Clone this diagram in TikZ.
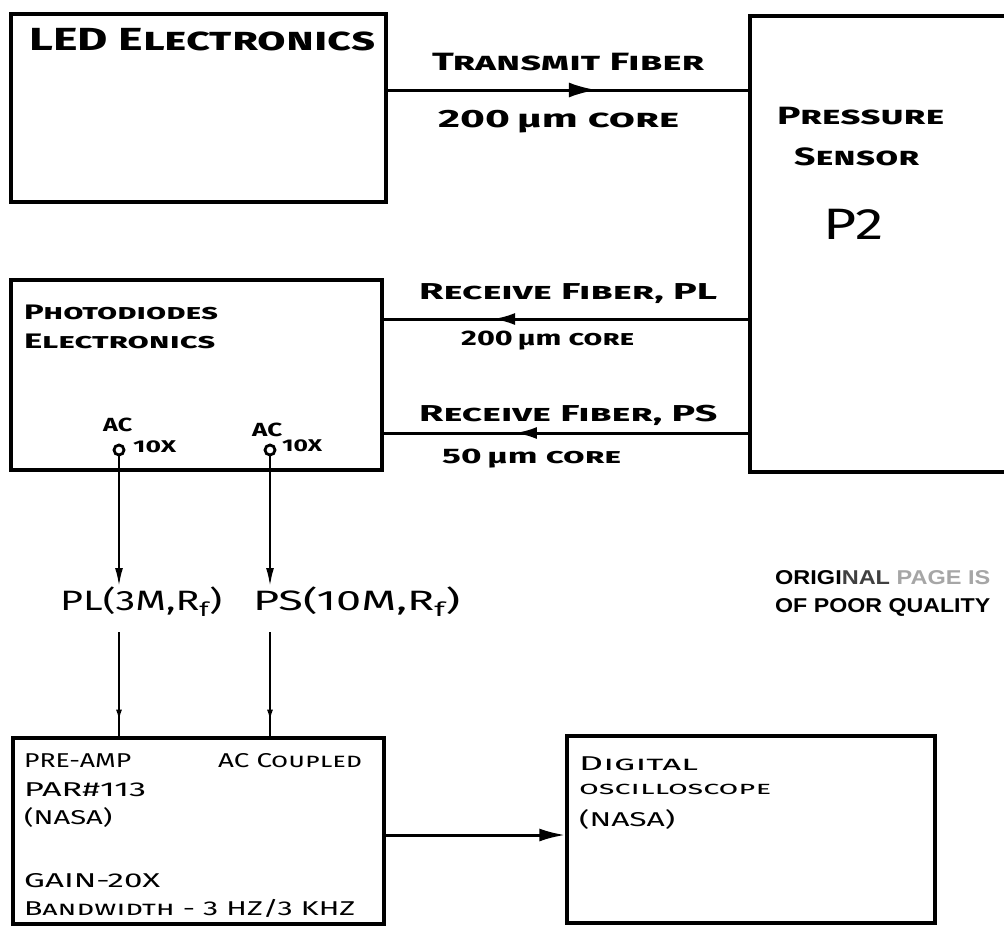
\documentclass[tikz,border=0pt]{standalone}
\usepackage{fontspec}
\setmainfont{Fira Sans}
\newfontfamily\stampfont{Liberation Sans}
\usetikzlibrary{arrows.meta,decorations.markings}
\newcommand\hw[2]{\resizebox{#1}{\height}{#2}}
\begin{document}
\begin{tikzpicture}[x=1pt,y=-1pt,
  box/.style={draw, line width=3.4pt, inner sep=0pt, rectangle},
  fiber/.style={line width=3pt},
  lead/.style={line width=2pt},
  txt/.style={inner sep=0pt, anchor=west},
  hand/.style={font=\fontsize{#1}{#1}\selectfont\bfseries\scshape},
  thin/.style={font=\fontsize{#1}{#1}\selectfont\scshape},
  midtip/.style 2 args={postaction={decorate},decoration={markings,mark=at position #1 with {\arrow{#2}}}},
]
\useasboundingbox (0,0) rectangle (1004,926);
\clip (0,0) rectangle (1004,926);
\fill[white] (0,0) rectangle (1004,926);

% boxes
\node[box, minimum width=375pt, minimum height=188pt] (led) at (198.5,108) {};
\node[box, minimum width=262pt, minimum height=456pt] (sensor) at (881,244) {};
\node[box, minimum width=371pt, minimum height=190pt] (pd) at (196.5,375) {};
\node[box, minimum width=371pt, minimum height=186pt] (pre) at (198.5,831) {};
\node[box, minimum width=368pt, minimum height=187pt] (osc) at (751,829.5) {};

% box texts
\node[txt, hand=32] (tled) at (29,40) {\hw{346pt}{LED Electronics}};
\node[txt, hand=25] (tpr) at (777,116) {\hw{167pt}{Pressure}};
\node[txt, hand=25] (tse) at (794,157) {\hw{125pt}{Sensor}};
\node[txt, font=\fontsize{44}{44}\selectfont] (tp2) at (823,224) {\hw{60pt}{P2}};
\node[txt, hand=21] (tpd1) at (24,312) {\hw{194pt}{Photodiodes}};
\node[txt, hand=21] (tpd2) at (24,341) {\hw{191pt}{Electronics}};

% fiber labels
\node[txt, hand=25] (ttx) at (432,62.5) {\hw{272pt}{Transmit Fiber}};
\node[txt, hand=25] (tc1) at (438,122) {\hw{241pt}{200\,{\upshape µm} core}};
\node[txt, hand=23] (trpl) at (419,294) {\hw{298pt}{Receive Fiber, PL}};
\node[txt, hand=21] (tc2) at (461,341) {\hw{173pt}{200\,{\upshape µm} core}};
\node[txt, hand=23] (trps) at (419,415) {\hw{298pt}{Receive Fiber, PS}};
\node[txt, hand=21] (tc3) at (442,459) {\hw{179pt}{50\,{\upshape µm} core}};

% fibers
\draw[fiber, midtip={0.58}{Latex[length=28pt,width=15pt]}] (led.east |- 0,90) -- (sensor.west |- 0,90);
\draw[fiber, midtip={0.70}{Latex[length=22pt,width=12pt]}] (sensor.west |- 0,319) -- (pd.east |- 0,319);
\draw[fiber, midtip={0.64}{Latex[length=22pt,width=12pt]}] (sensor.west |- 0,433) -- (pd.east |- 0,433);

% AC outputs
\node[txt, hand=19] (tac1) at (103,425) {\hw{29pt}{AC}};
\node[txt, hand=19] (tac2) at (252,430) {\hw{30pt}{AC}};
\node[circle, draw, line width=2.8pt, minimum size=10pt, inner sep=0pt] (ac1) at (119,450) {};
\node[circle, draw, line width=2.8pt, minimum size=10pt, inner sep=0pt] (ac2) at (270,450) {};
\node[txt, hand=17] (tx1) at (133,447) {\hw{43pt}{10X}};
\node[txt, hand=17] (tx2) at (282,446) {\hw{40pt}{10X}};

% resistor labels
\node[txt, font=\fontsize{28}{28}\selectfont] (pl) at (60,602) {\hw{162pt}{PL(3M,R\textsubscript{f})}};
\node[txt, font=\fontsize{28}{28}\selectfont] (ps) at (253,602) {\hw{207pt}{PS(10M,R\textsubscript{f})}};

\draw[lead, -{Latex[length=18pt,width=8pt]}] (ac1.south) -- (ac1 |- 0,586);
\draw[lead, -{Latex[length=18pt,width=8pt]}] (ac2.south) -- (ac2 |- 0,586);
\draw[lead, midtip={0.85}{Latex[length=11pt,width=6pt]}] (ac1 |- 0,632) -- (ac1 |- pre.north);
\draw[lead, midtip={0.85}{Latex[length=11pt,width=6pt]}] (ac2 |- 0,632) -- (ac2 |- pre.north);

% preamp texts
\node[txt, thin=20] (tpa1) at (24,761) {\hw{107pt}{PRE-AMP}};
\node[txt, thin=20] (tpa2) at (218,761) {\hw{144pt}{AC Coupled}};
\node[txt, thin=20] (tpa3) at (24,790) {\hw{122pt}{PAR\#113}};
\node[txt, thin=20] (tpa4) at (24,817) {\hw{88pt}{(NASA)}};
\node[txt, thin=20] (tpa5) at (24,881) {\hw{136pt}{GAIN-20X}};
\node[txt, thin=20] (tpa6) at (24,908) {\hw{331pt}{Bandwidth - 3 HZ/3 KHZ}};

% oscilloscope texts
\node[txt, thin=20] (tos1) at (579,764) {\hw{119pt}{Digital}};
\node[txt, thin=18] (tos2) at (579,789) {\hw{192pt}{oscilloscope}};
\node[txt, thin=20] (tos3) at (579,819) {\hw{96pt}{(NASA)}};

\draw[fiber, -{Latex[length=26pt,width=13pt]}] (pre.east |- 0,835) -- (osc.west |- 0,835);

% stamp
\node[txt, font=\stampfont\bfseries\fontsize{20}{20}\selectfont] (st1) at (775,578) {\hw{215pt}{ORIGI\textcolor{black!75}{NAL} \textcolor{black!35}{PAGE IS}}};
\node[txt, font=\stampfont\bfseries\fontsize{20}{20}\selectfont] (st2) at (775,607) {\hw{215pt}{OF POOR QUALITY}};
\end{tikzpicture}
\end{document}
